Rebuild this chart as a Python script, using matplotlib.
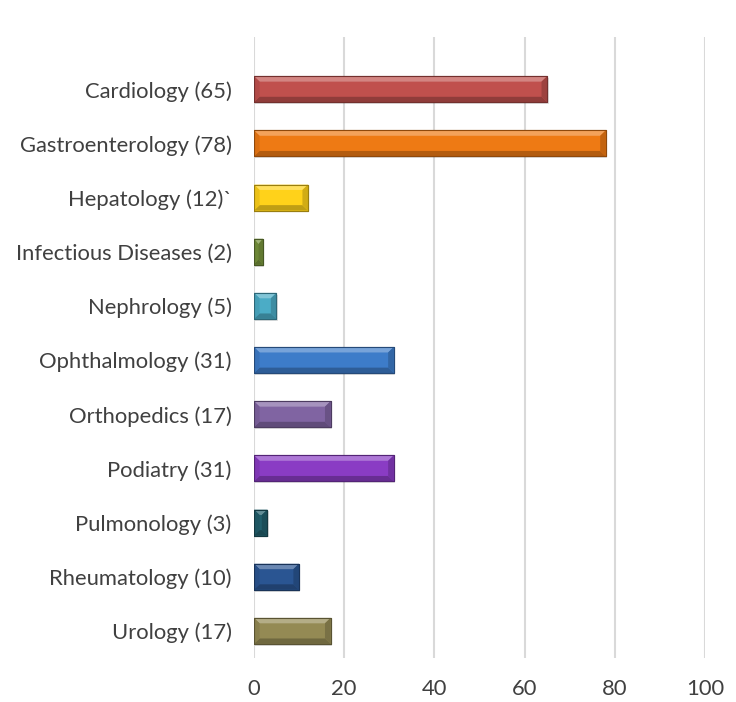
import matplotlib
matplotlib.use("Agg")
import matplotlib.pyplot as plt
from matplotlib.patches import Polygon, Rectangle
import matplotlib.colors as mcolors
import numpy as np

categories = ["Cardiology (65)", "Gastroenterology (78)", "Hepatology (12)`",
              "Infectious Diseases (2)", "Nephrology (5)", "Ophthalmology (31)",
              "Orthopedics (17)", "Podiatry (31)", "Pulmonology (3)",
              "Rheumatology (10)", "Urology (17)"]
values = [65, 78, 12, 2, 5, 31, 17, 31, 3, 10, 17]
colors = ["#C0504D", "#EE7A14", "#FFD21A", "#77933C", "#4BACC6", "#3D7CC9",
          "#8064A2", "#8A3CC4", "#215E6B", "#2A5592", "#948A54"]
xticks = [0, 20, 40, 60, 80, 100]

fig = plt.figure(figsize=(7.36, 7.02), dpi=100)
ax = fig.add_axes([0.345, 0.0627, 0.613, 0.8843])

n = len(categories)
ypos = np.arange(n)[::-1]
h = 0.48

def shade(c, f):
    r, g, b = mcolors.to_rgb(c)
    if f >= 1:
        t = f - 1
        return (r + (1 - r) * t, g + (1 - g) * t, b + (1 - b) * t)
    return (r * f, g * f, b * f)

bx = 1.25  # bevel width in data units
by = 0.1   # bevel height in data units
for y, v, c in zip(ypos, values, colors):
    ax.add_patch(Rectangle((0.3, y - h / 2 - 0.035), v, h, facecolor="#000000",
                           alpha=0.12, edgecolor="none", zorder=2))
    ax.barh(y, v, height=h, color=c, edgecolor=shade(c, 0.6), linewidth=0.8, zorder=3)
    x0, x1 = 0, v
    y0, y1 = y - h / 2, y + h / 2
    ex = min(bx, v / 2)
    ey = by
    top = Polygon([(x0, y1), (x1, y1), (x1 - ex, y1 - ey), (x0 + ex, y1 - ey)],
                  closed=True, facecolor=shade(c, 1.3), edgecolor="none", zorder=4)
    bot = Polygon([(x0, y0), (x1, y0), (x1 - ex, y0 + ey), (x0 + ex, y0 + ey)],
                  closed=True, facecolor=shade(c, 0.75), edgecolor="none", zorder=4)
    left = Polygon([(x0, y0), (x0, y1), (x0 + ex, y1 - ey), (x0 + ex, y0 + ey)],
                   closed=True, facecolor=shade(c, 0.92), edgecolor="none", zorder=4)
    right = Polygon([(x1, y0), (x1, y1), (x1 - ex, y1 - ey), (x1 - ex, y0 + ey)],
                    closed=True, facecolor=shade(c, 0.82), edgecolor="none", zorder=4)
    for p in (top, bot, left, right):
        ax.add_patch(p)
    ax.add_patch(Rectangle((x0, y0), v, h, facecolor="none",
                           edgecolor=shade(c, 0.6), linewidth=0.8, zorder=5))

ax.set_xlim(0, 100)
ax.set_ylim(-0.5, 10.96)
ax.set_xticks(xticks)
ax.set_xticklabels([str(t) for t in xticks])
ax.set_yticks(ypos)
ax.set_yticklabels(categories)
ax.xaxis.grid(True, color="#D9D9D9", linewidth=1.5, zorder=0)
ax.set_axisbelow(True)
for s in ax.spines.values():
    s.set_visible(False)
ax.tick_params(axis="both", length=0, labelsize=15.8, colors="#404040", labelcolor="#404040")
ax.tick_params(axis="x", pad=15)
ax.tick_params(axis="y", pad=16)
for lbl in ax.get_xticklabels() + ax.get_yticklabels():
    lbl.set_fontfamily(["Lato", "DejaVu Sans"])

fig.savefig("out.png", dpi=100, facecolor="white")
